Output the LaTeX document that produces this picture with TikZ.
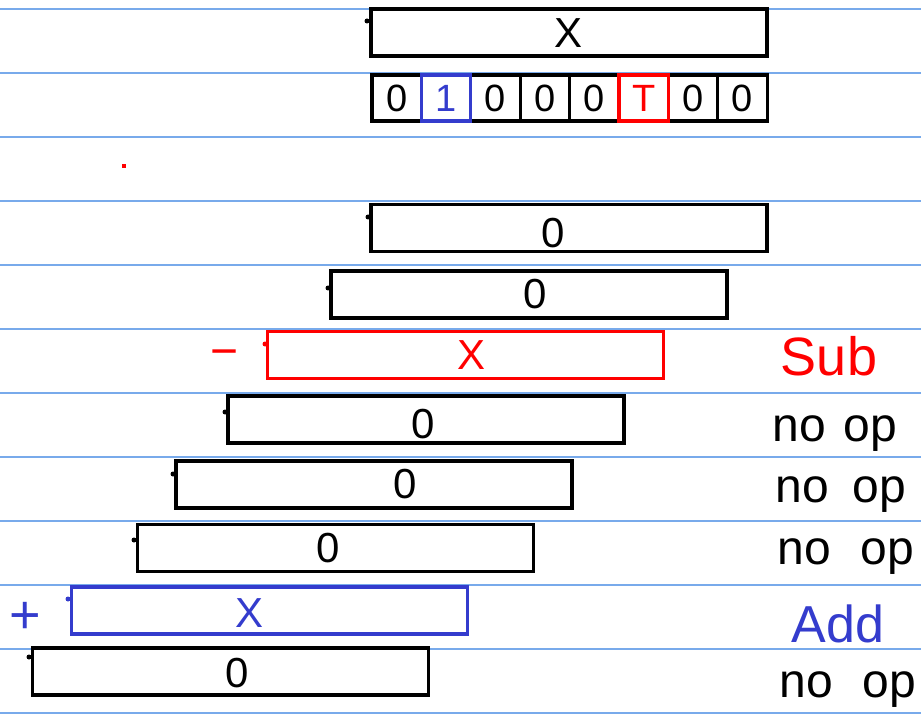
\documentclass[tikz,border=0pt]{standalone}
\usepackage{fontspec}
\setmainfont{Liberation Sans}
\definecolor{ruleblue}{RGB}{120,170,235}
\definecolor{inkblue}{RGB}{52,60,205}
\definecolor{inkred}{RGB}{255,0,0}
\tikzset{
  regbox/.style={draw=black, line width=3.2pt, minimum width=396pt, minimum height=47pt, inner sep=0pt, outer sep=0pt},
  cellbox/.style={draw=black, line width=3.2pt, minimum width=49.4pt, minimum height=46pt, inner sep=0pt, font=\fontsize{38}{38}\selectfont},
  digit/.style={font=\fontsize{42}{42}\selectfont, inner sep=0pt},
  oplabel/.style={font=\fontsize{48}{48}\selectfont, inner sep=0pt},
  ruling/.style={draw=ruleblue, line width=1.2pt},
  tick/.style={fill=black, circle, inner sep=0pt, minimum size=5pt}
}
\begin{document}
\begin{tikzpicture}[x=1pt,y=-1pt]
\useasboundingbox (0,0) rectangle (921,727);
% ruled lines
\foreach \k in {0,...,11} {
  \draw[ruling] (0,{9+64*\k}) -- (921,{9+64*\k});
}
% top register
\node[regbox] (top) at (569,32.5) {};
\node[digit] (topx) at (569,33) {X};
\node[tick] (d0) at (367,21) {};
% bit cells
\foreach \i/\t/\c in {0/0/black,1/1/inkblue,2/0/black,3/0/black,4/0/black,5/T/inkred,6/0/black,7/0/black} {
  \node[cellbox, draw=\c, text=\c] (c\i) at ({372+49.4*(\i+0.5)},98) {\t};
}
\node[regbox, draw=inkblue] (c1b) at (c1) [minimum width=49.4pt, minimum height=46pt] {};
\node[regbox, draw=inkred] (c5b) at (c5) [minimum width=49.4pt, minimum height=46pt] {};
% red dot
\node[fill=inkred, inner sep=0pt, minimum size=4pt] (rd) at (124,166) {};
% partial products
\node[regbox] (b3) at (569,228) {};
\node[digit] at (553,233) {0};
\node[tick] at (368,217) {};

\node[regbox] (b4) at (529,294.5) {};
\node[digit] at (535,294) {0};
\node[tick] at (328,288) {};

\node[regbox, draw=inkred] (b5) at (465.5,355) {};
\node[digit, text=inkred] at (472,355) {X};
\node[tick, fill=inkred] at (265,344) {};
\node[oplabel, text=inkred] (minus) at (225,359) {−};

\node[regbox] (b6) at (426,419.5) {};
\node[digit] at (423,424) {0};
\node[tick] at (225,412) {};

\node[regbox] (b7) at (374,484.5) {};
\node[digit] at (405,484) {0};
\node[tick] at (173,474) {};

\node[regbox] (b8) at (335.5,548) {};
\node[digit] at (328,548) {0};
\node[tick] at (134,540) {};

\node[regbox, draw=inkblue] (b9) at (269.5,610.5) {};
\node[digit, text=inkblue] at (250,613) {X};
\node[tick, fill=inkblue] at (68,599) {};
\node[oplabel, text=inkblue] (plus) at (25,618) {\fontsize{54}{54}\selectfont +};

\node[regbox] (b10) at (230.5,671.5) {};
\node[digit] at (237,673) {0};
\node[tick] at (29,657) {};

% operation labels
\node[oplabel, text=inkred] (sub) at (829,356) {\fontsize{54}{54}\selectfont Sub};
\node[oplabel] (n1) at (835,434) {no\hspace{18pt}op};
\node[oplabel] (n2) at (841,495) {no\hspace{24pt}op};
\node[oplabel] (n3) at (846,557) {no\hspace{30pt}op};
\node[oplabel, text=inkblue] (add) at (838,624) {\fontsize{52}{52}\selectfont Add};
\node[oplabel] (n4) at (848,690) {no\hspace{30pt}op};
\end{tikzpicture}
\end{document}
